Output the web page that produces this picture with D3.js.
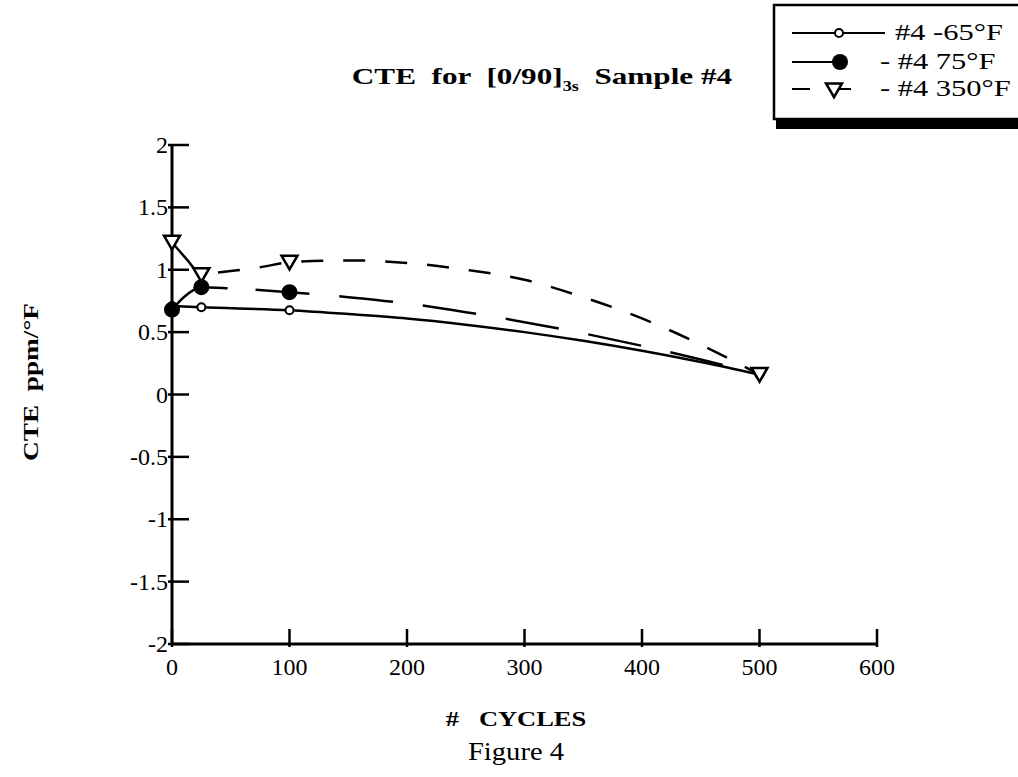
<!DOCTYPE html>
<html>
<head>
<meta charset="utf-8">
<script src="https://cdn.jsdelivr.net/npm/d3@7"></script>
<style>
  body { margin: 0; background: #fff; }
  svg { display: block; font-family: "Liberation Serif", "Times New Roman", serif; }
</style>
</head>
<body>
<svg id="chart" width="1018" height="777"></svg>
<script>
const cycles = [0, 25, 100, 500];
const cteMinus65 = [0.71, 0.70, 0.675, 0.16];
const cte75 = [0.68, 0.86, 0.82, 0.16];
const cte350 = [1.22, 0.96, 1.06, 0.16];

// smoothed fit curves as drawn in the figure
const fitMinus65X = [0, 25, 100, 150, 200, 250, 300, 350, 400, 450, 500];
const fitMinus65Y = [0.71, 0.70, 0.675, 0.645, 0.61, 0.56, 0.50, 0.43, 0.35, 0.26, 0.16];
const fit75X = [0, 10, 25, 50, 100, 150, 200, 250, 300, 350, 400, 450, 500];
const fit75Y = [0.68, 0.78, 0.86, 0.85, 0.82, 0.78, 0.73, 0.66, 0.58, 0.49, 0.39, 0.28, 0.16];
const fit350X = [0, 12, 25, 50, 75, 100, 150, 200, 250, 300, 350, 400, 450, 500];
const fit350Y = [1.22, 1.09, 0.97, 0.99, 1.02, 1.06, 1.075, 1.055, 1.00, 0.92, 0.78, 0.61, 0.40, 0.16];

const xTicks = [0, 100, 200, 300, 400, 500, 600];
const yTicks = [2, 1.5, 1, 0.5, 0, -0.5, -1, -1.5, -2];
const legendLabels = ["#4 -65°F", "- #4 75°F", "- #4 350°F"];

const svg = d3.select("#chart");

const x = d3.scaleLinear().domain([0, 600]).range([172, 877]);
const y = d3.scaleLinear().domain([-2, 2]).range([644, 145]);

// axes
const xAxis = svg.append("g").attr("transform", `translate(0,${y(-2)})`);
xAxis.append("line").attr("x1", x(0)).attr("x2", x(600)).attr("stroke", "#000").attr("stroke-width", 3);
xAxis.selectAll(".xt").data(xTicks).join("line")
  .attr("x1", d => x(d)).attr("x2", d => x(d))
  .attr("y1", -15).attr("y2", 3)
  .attr("stroke", "#000").attr("stroke-width", 2.5);
xAxis.selectAll(".xl").data(xTicks).join("text")
  .attr("x", d => x(d)).attr("y", 31)
  .attr("text-anchor", "middle")
  .attr("font-size", 24)
  .text(d => d);

const yAxis = svg.append("g").attr("transform", `translate(${x(0)},0)`);
yAxis.append("line").attr("y1", y(-2)).attr("y2", y(2)).attr("stroke", "#000").attr("stroke-width", 3);
yAxis.selectAll(".yt").data(yTicks).join("line")
  .attr("y1", d => y(d)).attr("y2", d => y(d))
  .attr("x1", -4).attr("x2", 17)
  .attr("stroke", "#000").attr("stroke-width", 2.5);
yAxis.selectAll(".yl").data(yTicks).join("text")
  .attr("x", -4).attr("y", d => y(d) + 8)
  .attr("text-anchor", "end")
  .attr("font-size", 24)
  .text(d => d);

// fit lines
const line = d3.line().x(d => x(d[0])).y(d => y(d[1])).curve(d3.curveMonotoneX);
const zip = (xs, ys) => xs.map((c, i) => [c, ys[i]]);
const repeatDash = (head, dash, gap) => head.concat(d3.range(20).flatMap(() => [dash, gap])).join(",");

svg.append("path").datum(zip(fit350X, fit350Y))
  .attr("d", line).attr("fill", "none").attr("stroke", "#000")
  .attr("stroke-width", 2.5).attr("stroke-dasharray", repeatDash([44, 16], 22, 20));
svg.append("path").datum(zip(fit75X, fit75Y))
  .attr("d", line).attr("fill", "none").attr("stroke", "#000")
  .attr("stroke-width", 2.5).attr("stroke-dasharray", repeatDash([64, 28], 54, 30));
svg.append("path").datum(zip(fitMinus65X, fitMinus65Y))
  .attr("d", line).attr("fill", "none").attr("stroke", "#000")
  .attr("stroke-width", 2.5);

// markers
const pts = vals => cycles.map((c, i) => [c, vals[i]]);
const tri = d3.symbol().type(d3.symbolTriangle).size(110);

svg.selectAll(".m65").data(pts(cteMinus65)).join("circle")
  .attr("cx", d => x(d[0])).attr("cy", d => y(d[1])).attr("r", 4)
  .attr("fill", "#fff").attr("stroke", "#000").attr("stroke-width", 2);
svg.selectAll(".m75").data(pts(cte75).slice(0, 3)).join("circle")
  .attr("cx", d => x(d[0])).attr("cy", d => y(d[1])).attr("r", 8)
  .attr("fill", "#000");
svg.selectAll(".m350").data(pts(cte350)).join("path")
  .attr("d", tri)
  .attr("transform", d => `translate(${x(d[0])},${y(d[1]) - 2}) rotate(180)`)
  .attr("fill", "#fff").attr("stroke", "#000").attr("stroke-width", 2.5);

// title
const title = svg.append("text").attr("transform", "translate(542,84) scale(1.3,1)")
  .attr("text-anchor", "middle").attr("font-size", 24).attr("font-weight", "bold")
  .attr("xml:space", "preserve");
title.append("tspan").text("CTE  for  [0/90]");
title.append("tspan").attr("font-size", 14).attr("dy", 7).text("3s");
title.append("tspan").attr("dy", -7).text("  Sample #4");

// axis titles
svg.append("text").attr("transform", "translate(38,382) rotate(-90) scale(1.3,1)")
  .attr("text-anchor", "middle").attr("font-size", 21).attr("font-weight", "bold")
  .attr("xml:space", "preserve").text("CTE  ppm/°F");
svg.append("text").attr("transform", "translate(516,726) scale(1.26,1)")
  .attr("text-anchor", "middle").attr("font-size", 21).attr("font-weight", "bold")
  .attr("xml:space", "preserve").text("#   CYCLES");
svg.append("text").attr("transform", "translate(516,760) scale(1.1,1)")
  .attr("text-anchor", "middle").attr("font-size", 26).text("Figure 4");

// legend
const lg = svg.append("g");
lg.append("rect").attr("x", 776).attr("y", 118).attr("width", 260).attr("height", 11).attr("fill", "#000");
lg.append("rect").attr("x", 774).attr("y", 5).attr("width", 260).attr("height", 114)
  .attr("fill", "#fff").attr("stroke", "#000").attr("stroke-width", 2.5);

const rowY = [33, 62, 89];
lg.append("line").attr("x1", 792).attr("x2", 885).attr("y1", rowY[0]).attr("y2", rowY[0]).attr("stroke", "#000").attr("stroke-width", 2);
lg.append("circle").attr("cx", 839).attr("cy", rowY[0]).attr("r", 4).attr("fill", "#fff").attr("stroke", "#000").attr("stroke-width", 2);
lg.append("line").attr("x1", 792).attr("x2", 838).attr("y1", rowY[1]).attr("y2", rowY[1]).attr("stroke", "#000").attr("stroke-width", 2);
lg.append("circle").attr("cx", 840).attr("cy", rowY[1]).attr("r", 8).attr("fill", "#000");
lg.append("line").attr("x1", 792).attr("x2", 810).attr("y1", rowY[2]).attr("y2", rowY[2]).attr("stroke", "#000").attr("stroke-width", 2);
lg.append("line").attr("x1", 836).attr("x2", 851).attr("y1", rowY[2]).attr("y2", rowY[2]).attr("stroke", "#000").attr("stroke-width", 2);
lg.append("path").attr("d", tri).attr("transform", `translate(834,${rowY[2] - 1}) rotate(180)`)
  .attr("fill", "#fff").attr("stroke", "#000").attr("stroke-width", 2.5);

lg.selectAll(".lt").data(legendLabels).join("text")
  .attr("transform", (d, i) => `translate(${i === 0 ? 895 : 880},${rowY[i] + 7}) scale(1.27,1)`)
  .attr("font-size", 24)
  .text(d => d);
</script>
</body>
</html>
